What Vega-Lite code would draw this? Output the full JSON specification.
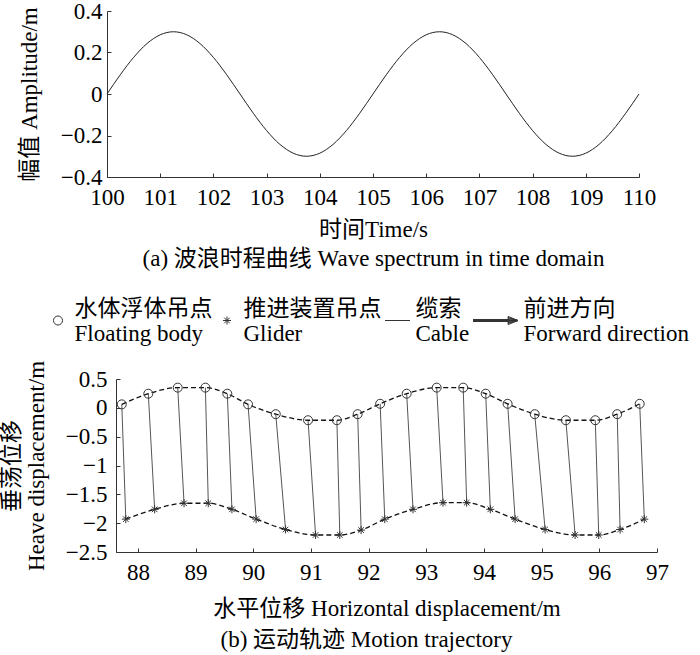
{
  "$schema": "https://vega.github.io/schema/vega-lite/v6.json",
  "padding": {"left": 0, "top": 0, "right": 0, "bottom": 0},
  "columns": 1,
  "spacing": 24,
  "resolve": {"legend": {"shape": "independent", "size": "independent"}, "scale": {"shape": "independent", "size": "independent"}},
  "config": {
    "view": {"stroke": null},
    "font": "Liberation Serif, Noto Sans CJK SC",
    "axis": {
      "domainColor": "#333", "tickColor": "#333", "tickSize": -4, "grid": false,
      "labelFont": "Liberation Serif, Noto Sans CJK SC", "labelFontSize": 23, "labelColor": "#000",
      "titleFont": "Liberation Serif, Noto Sans CJK SC", "titleFontSize": 23, "titleFontWeight": "normal", "titleColor": "#000",
      "labelFlush": false, "labelOverlap": false
    },
    "title": {"font": "Liberation Serif, Noto Sans CJK SC", "fontSize": 23, "fontWeight": "normal", "color": "#000"},
    "legend": {"labelFont": "Liberation Serif, Noto Sans CJK SC"}
  },
  "datasets": {
    "wave": [
      {"t": 100, "a": 0}, {"t": 100.25, "a": 0.0927}, {"t": 100.5, "a": 0.1763}, {"t": 100.75, "a": 0.2427},
      {"t": 101, "a": 0.2853}, {"t": 101.25, "a": 0.3}, {"t": 101.5, "a": 0.2853}, {"t": 101.75, "a": 0.2427},
      {"t": 102, "a": 0.1763}, {"t": 102.25, "a": 0.0927}, {"t": 102.5, "a": 0}, {"t": 102.75, "a": -0.0927},
      {"t": 103, "a": -0.1763}, {"t": 103.25, "a": -0.2427}, {"t": 103.5, "a": -0.2853}, {"t": 103.75, "a": -0.3},
      {"t": 104, "a": -0.2853}, {"t": 104.25, "a": -0.2427}, {"t": 104.5, "a": -0.1763}, {"t": 104.75, "a": -0.0927},
      {"t": 105, "a": 0}, {"t": 105.25, "a": 0.0927}, {"t": 105.5, "a": 0.1763}, {"t": 105.75, "a": 0.2427},
      {"t": 106, "a": 0.2853}, {"t": 106.25, "a": 0.3}, {"t": 106.5, "a": 0.2853}, {"t": 106.75, "a": 0.2427},
      {"t": 107, "a": 0.1763}, {"t": 107.25, "a": 0.0927}, {"t": 107.5, "a": 0}, {"t": 107.75, "a": -0.0927},
      {"t": 108, "a": -0.1763}, {"t": 108.25, "a": -0.2427}, {"t": 108.5, "a": -0.2853}, {"t": 108.75, "a": -0.3},
      {"t": 109, "a": -0.2853}, {"t": 109.25, "a": -0.2427}, {"t": 109.5, "a": -0.1763}, {"t": 109.75, "a": -0.0927},
      {"t": 110, "a": 0}
    ],
    "points": [
      {"type": "float", "x": 87.72, "y": 0.06}, {"type": "float", "x": 88.18, "y": 0.245}, {"type": "float", "x": 88.69, "y": 0.35},
      {"type": "float", "x": 89.17, "y": 0.35}, {"type": "float", "x": 89.55, "y": 0.245}, {"type": "float", "x": 89.91, "y": 0.06},
      {"type": "float", "x": 90.39, "y": -0.11}, {"type": "float", "x": 90.95, "y": -0.215}, {"type": "float", "x": 91.45, "y": -0.215},
      {"type": "float", "x": 91.81, "y": -0.11}, {"type": "float", "x": 92.2, "y": 0.07}, {"type": "float", "x": 92.66, "y": 0.245},
      {"type": "float", "x": 93.18, "y": 0.35}, {"type": "float", "x": 93.64, "y": 0.35}, {"type": "float", "x": 94.03, "y": 0.245},
      {"type": "float", "x": 94.41, "y": 0.07}, {"type": "float", "x": 94.88, "y": -0.11}, {"type": "float", "x": 95.42, "y": -0.215},
      {"type": "float", "x": 95.93, "y": -0.215}, {"type": "float", "x": 96.31, "y": -0.11}, {"type": "float", "x": 96.7, "y": 0.07},
      {"type": "glider", "x": 87.79, "y": -1.93}, {"type": "glider", "x": 88.29, "y": -1.76}, {"type": "glider", "x": 88.8, "y": -1.655},
      {"type": "glider", "x": 89.22, "y": -1.655}, {"type": "glider", "x": 89.63, "y": -1.76}, {"type": "glider", "x": 90.05, "y": -1.93},
      {"type": "glider", "x": 90.56, "y": -2.11}, {"type": "glider", "x": 91.08, "y": -2.205}, {"type": "glider", "x": 91.5, "y": -2.205},
      {"type": "glider", "x": 91.87, "y": -2.12}, {"type": "glider", "x": 92.28, "y": -1.93}, {"type": "glider", "x": 92.77, "y": -1.76},
      {"type": "glider", "x": 93.29, "y": -1.645}, {"type": "glider", "x": 93.7, "y": -1.645}, {"type": "glider", "x": 94.11, "y": -1.76},
      {"type": "glider", "x": 94.54, "y": -1.93}, {"type": "glider", "x": 95.06, "y": -2.11}, {"type": "glider", "x": 95.58, "y": -2.205},
      {"type": "glider", "x": 95.99, "y": -2.205}, {"type": "glider", "x": 96.36, "y": -2.11}, {"type": "glider", "x": 96.78, "y": -1.93}
    ],
    "cables": [
      {"x": 87.72, "y": 0.06, "x2": 87.79, "y2": -1.93}, {"x": 88.18, "y": 0.245, "x2": 88.29, "y2": -1.76},
      {"x": 88.69, "y": 0.35, "x2": 88.8, "y2": -1.655}, {"x": 89.17, "y": 0.35, "x2": 89.22, "y2": -1.655},
      {"x": 89.55, "y": 0.245, "x2": 89.63, "y2": -1.76}, {"x": 89.91, "y": 0.06, "x2": 90.05, "y2": -1.93},
      {"x": 90.39, "y": -0.11, "x2": 90.56, "y2": -2.11}, {"x": 90.95, "y": -0.215, "x2": 91.08, "y2": -2.205},
      {"x": 91.45, "y": -0.215, "x2": 91.5, "y2": -2.205}, {"x": 91.81, "y": -0.11, "x2": 91.87, "y2": -2.12},
      {"x": 92.2, "y": 0.07, "x2": 92.28, "y2": -1.93}, {"x": 92.66, "y": 0.245, "x2": 92.77, "y2": -1.76},
      {"x": 93.18, "y": 0.35, "x2": 93.29, "y2": -1.645}, {"x": 93.64, "y": 0.35, "x2": 93.7, "y2": -1.645},
      {"x": 94.03, "y": 0.245, "x2": 94.11, "y2": -1.76}, {"x": 94.41, "y": 0.07, "x2": 94.54, "y2": -1.93},
      {"x": 94.88, "y": -0.11, "x2": 95.06, "y2": -2.11}, {"x": 95.42, "y": -0.215, "x2": 95.58, "y2": -2.205},
      {"x": 95.93, "y": -0.215, "x2": 95.99, "y2": -2.205}, {"x": 96.31, "y": -0.11, "x2": 96.36, "y2": -2.11},
      {"x": 96.7, "y": 0.07, "x2": 96.78, "y2": -1.93}
    ]
  },
  "concat": [
    {
      "width": 523,
      "height": 166,
      "data": {"name": "wave"},
      "mark": {"type": "line", "color": "#222", "strokeWidth": 1, "interpolate": "monotone"},
      "encoding": {
        "x": {
          "field": "t", "type": "quantitative",
          "scale": {"domain": [100, 110], "nice": false, "zero": false, "range": [-9, 523]},
          "axis": {"values": [100, 101, 102, 103, 104, 105, 106, 107, 108, 109, 110], "title": "时间Time/s", "labelPadding": 13, "titlePadding": 9}
        },
        "y": {
          "field": "a", "type": "quantitative",
          "scale": {"domain": [-0.4, 0.4], "nice": false},
          "axis": {"values": [-0.4, -0.2, 0, 0.2, 0.4], "format": "~g", "title": "幅值 Amplitude/m", "offset": 9, "labelPadding": 9, "titlePadding": 19}
        }
      },
      "title": {"text": "(a) 波浪时程曲线 Wave spectrum in time domain", "orient": "bottom", "offset": 7, "dx": -4}
    },
    {
      "width": 541,
      "height": 173,
      "encoding": {
        "x": {
          "field": "x", "type": "quantitative",
          "scale": {"domain": [87.62, 97], "nice": false, "zero": false},
          "axis": {"values": [88, 89, 90, 91, 92, 93, 94, 95, 96, 97], "title": "水平位移 Horizontal displacement/m", "labelPadding": 13, "titlePadding": 13}
        },
        "y": {
          "field": "y", "type": "quantitative",
          "scale": {"domain": [-2.5, 0.5], "nice": false},
          "axis": {"values": [-2.5, -2, -1.5, -1, -0.5, 0, 0.5], "format": "~g", "title": ["垂荡位移", "Heave displacement/m"], "titleLineHeight": 25, "labelPadding": 13, "titlePadding": 17}
        }
      },
      "layer": [
        {
          "data": {"name": "cables"},
          "mark": {"type": "rule", "color": "#555", "strokeWidth": 1},
          "encoding": {"x2": {"field": "x2"}, "y2": {"field": "y2"}}
        },
        {
          "data": {"name": "points"},
          "transform": [{"filter": "datum.type === 'float'"}],
          "mark": {"type": "line", "color": "#111", "strokeWidth": 1.3, "strokeDash": [5, 3], "interpolate": "monotone"},
          "encoding": {"order": {"field": "x", "type": "quantitative"}}
        },
        {
          "data": {"name": "points"},
          "transform": [{"filter": "datum.type === 'glider'"}],
          "mark": {"type": "line", "color": "#111", "strokeWidth": 1.3, "strokeDash": [5, 3], "interpolate": "monotone"},
          "encoding": {"order": {"field": "x", "type": "quantitative"}}
        },
        {
          "data": {"name": "points"},
          "mark": {"type": "point", "filled": false, "stroke": "#333", "strokeWidth": 1, "opacity": 1},
          "encoding": {
            "shape": {
              "field": "type", "type": "nominal",
              "scale": {
                "domain": ["float", "glider", "cable", "forward"],
                "range": [
                  "M-1,0A1,1,0,1,1,1,0A1,1,0,1,1,-1,0Z",
                  "M-1,0L1,0M0,-1L0,1M-0.7,-0.7L0.7,0.7M-0.7,0.7L0.7,-0.7",
                  "M-1,0L1,0",
                  "M-1,-0.045L0.6,-0.045M-1,0L0.6,0M-1,0.045L0.6,0.045M0.56,-0.18L1,0L0.56,0.18ZM0.56,-0.13L1,0M0.56,-0.09L1,0M0.56,-0.045L1,0M0.56,0L1,0M0.56,0.045L1,0M0.56,0.09L1,0M0.56,0.13L1,0"
                ]
              },
              "legend": {
                "orient": "none", "legendX": -69.5, "legendY": -83.5, "direction": "horizontal",
                "title": null, "symbolStrokeWidth": 1,
                "labelFontSize": 23, "labelColor": "#000", "labelOffset": 5, "columnPadding": 3,
                "labelBaseline": "bottom",
                "clipHeight": 50, "labelLimit": 400, "padding": 0,
                "labelExpr": "datum.value === 'float' ? ['水体浮体吊点', 'Floating body'] : datum.value === 'glider' ? ['推进装置吊点', 'Glider'] : datum.value === 'cable' ? ['缆索', 'Cable'] : ['前进方向', 'Forward direction']",
                "encode": {
                  "labels": {"update": {"lineHeight": {"value": 28}}}
                }
              }
            },
            "size": {
              "field": "type", "type": "nominal",
              "scale": {"type": "ordinal", "domain": ["float", "glider", "cable", "forward"], "range": [81, 64, 625, 2025]},
              "legend": {
                "orient": "none", "legendX": -69.5, "legendY": -83.5, "direction": "horizontal",
                "title": null, "symbolStrokeWidth": 1,
                "labelFontSize": 23, "labelColor": "#000", "labelOffset": 5, "columnPadding": 3,
                "labelBaseline": "bottom",
                "clipHeight": 50, "labelLimit": 400, "padding": 0,
                "labelExpr": "datum.value === 'float' ? ['水体浮体吊点', 'Floating body'] : datum.value === 'glider' ? ['推进装置吊点', 'Glider'] : datum.value === 'cable' ? ['缆索', 'Cable'] : ['前进方向', 'Forward direction']",
                "encode": {
                  "labels": {"update": {"lineHeight": {"value": 28}}}
                }
              }
            }
          }
        }
      ],
      "title": {"text": "(b) 运动轨迹 Motion trajectory", "orient": "bottom", "offset": 9, "dx": -20}
    }
  ]
}
